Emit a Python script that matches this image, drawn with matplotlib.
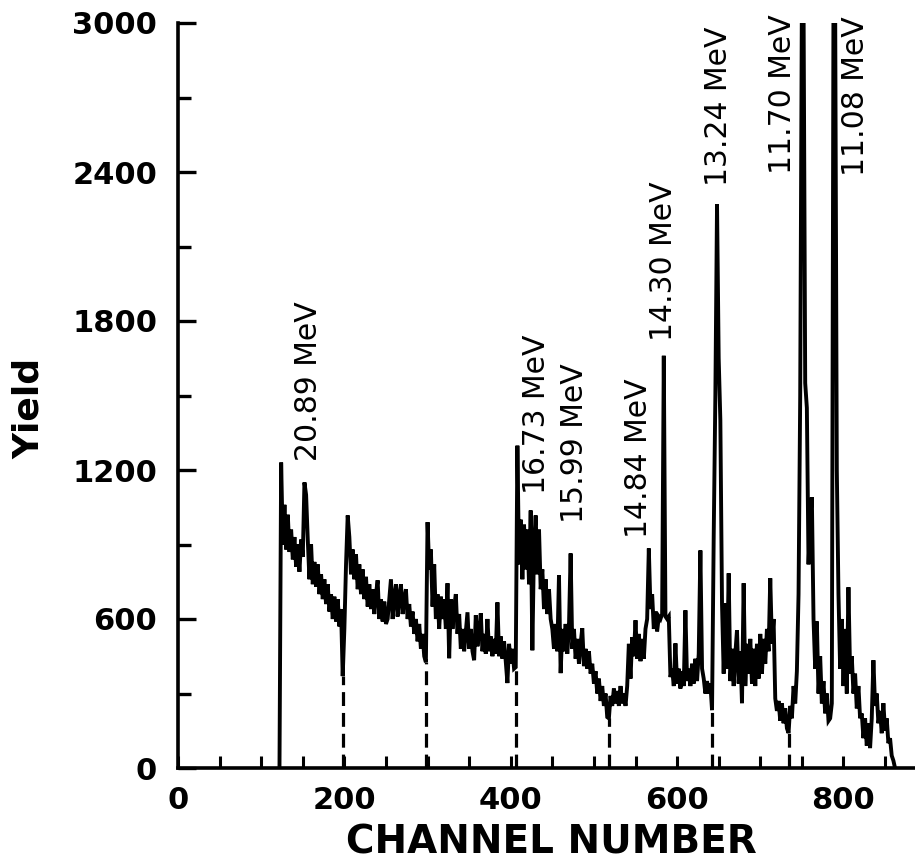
import numpy as np
import matplotlib
matplotlib.use("Agg")
import matplotlib.pyplot as plt

plt.rcParams['font.family'] = ['DejaVu Sans']
plt.rcParams['lines.scale_dashes'] = False

# ---- data ----
first_channel = 122
channel_step = 2
counts = [
    0, 1230, 900, 1060, 880, 1020, 870, 960, 840, 930,
    810, 900, 790, 920, 850, 1150, 1100, 920, 760, 900,
    740, 830, 730, 820, 700, 780, 680, 760, 660, 740,
    630, 700, 600, 690, 590, 680, 570, 640, 370, 560,
    820, 1017, 930, 780, 880, 760, 860, 720, 820, 700,
    800, 680, 770, 650, 740, 640, 720, 620, 700, 756,
    600, 680, 590, 670, 580, 600, 680, 760, 600, 690,
    740, 610, 690, 740, 620, 680, 720, 600, 660, 570,
    630, 540, 600, 510, 580, 480, 540, 450, 426, 990,
    800, 880, 650, 820, 600, 700, 560, 690, 600, 680,
    560, 744, 442, 680, 560, 650, 700, 540, 620, 480,
    560, 470, 550, 627, 480, 560, 470, 434, 615, 490,
    550, 623, 470, 540, 460, 600, 470, 530, 450, 520,
    460, 667, 450, 530, 440, 510, 430, 342, 500, 420,
    480, 400, 406, 1298, 820, 1000, 760, 980, 800, 960,
    740, 1037, 474, 900, 1017, 780, 960, 720, 800, 640,
    760, 620, 720, 600, 560, 480, 580, 470, 776, 382,
    560, 470, 580, 460, 570, 864, 480, 560, 440, 520,
    420, 500, 563, 410, 480, 400, 470, 380, 420, 340,
    390, 300, 360, 270, 330, 250, 300, 205, 200, 290,
    250, 320, 260, 310, 250, 330, 260, 300, 250, 330,
    500, 360, 527, 450, 595, 440, 540, 430, 520, 440,
    560, 600, 884, 640, 700, 560, 630, 550, 610, 600,
    620, 1660, 610, 600, 610, 366, 400, 330, 502, 340,
    400, 320, 390, 330, 635, 350, 400, 330, 420, 340,
    440, 350, 460, 876, 400, 360, 300, 350, 300, 340,
    233, 929, 1500, 2270, 1650, 1400, 660, 380, 663, 400,
    784, 350, 480, 330, 460, 555, 340, 470, 261, 744,
    330, 500, 380, 520, 340, 480, 330, 500, 360, 540,
    380, 520, 420, 560, 470, 764, 500, 600, 280, 230,
    270, 190, 260, 180, 240, 160, 141, 250, 200, 330,
    260, 390, 700, 1500, 3100, 3100, 1550, 1450, 820, 1000,
    1090, 600, 400, 590, 300, 450, 260, 350, 220, 300,
    190, 200, 260, 3100, 3100, 1200, 700, 400, 600, 330,
    560, 300, 728, 380, 450, 300, 380, 240, 330, 200,
    220, 120, 200, 90, 180, 80, 200, 434, 250, 300,
    180, 230, 140, 261, 150, 200, 100, 120, 50, 30, 0,
]
channels = first_channel + channel_step * np.arange(len(counts))

boundary_channels = [198, 298, 406, 518, 642, 734]

label_texts = ["20.89 MeV", "16.73 MeV", "15.99 MeV", "14.84 MeV",
               "14.30 MeV", "13.24 MeV", "11.70 MeV", "11.08 MeV"]
label_channels = [157, 431, 477, 553, 584, 650, 727, 815]
label_yields = [1238, 1105, 988, 925, 1720, 2344, 2392, 2384]

x_ticklabels = [0, 200, 400, 600, 800]
y_ticklabels = [0, 600, 1200, 1800, 2400, 3000]

# ---- figure ----
fig = plt.figure(figsize=(9.15, 8.66), dpi=100)
ax = fig.add_axes([178 / 915, 98 / 866, 737 / 915, 745 / 866])

ax.plot(channels, counts, color='black', lw=2.8, solid_joinstyle='miter', clip_on=True)

cmap = dict(zip(channels.tolist(), counts))
for bc in boundary_channels:
    ax.plot([bc, bc], [0, cmap[bc]], color='black', lw=2.3,
            linestyle=(0, (10, 5)), solid_capstyle='butt')

for t, c, y in zip(label_texts, label_channels, label_yields):
    ax.text(c, y, t, rotation=90, ha='center', va='bottom', fontsize=21.5,
            color='black')

ax.set_xlim(0, 886)
ax.set_ylim(0, 3000)
ax.spines['top'].set_visible(False)
ax.spines['right'].set_visible(False)
for s in ('left', 'bottom'):
    ax.spines[s].set_linewidth(2.6)

ax.set_xticks(x_ticklabels)
ax.set_xticklabels([str(v) for v in x_ticklabels])
ax.set_xticks([v for v in range(50, 886, 50) if v % 200 != 0], minor=True)
ax.set_yticks(y_ticklabels)
ax.set_yticklabels([str(v) for v in y_ticklabels])
ax.set_yticks(np.arange(300, 3000, 600), minor=True)

ax.tick_params(axis='x', which='both', direction='in', length=9, width=2.2,
               labelsize=22, pad=13)
ax.tick_params(axis='y', which='major', direction='in', length=13, width=2.4,
               labelsize=22, pad=15)
ax.tick_params(axis='y', which='minor', direction='in', length=9, width=2.4)
for lab in ax.get_xticklabels() + ax.get_yticklabels():
    lab.set_fontweight('bold')

fig.text(551 / 915, 1 - 843 / 866, "CHANNEL NUMBER", ha='center', va='center',
         fontsize=28, fontweight='bold')
fig.text(29 / 915, 1 - 408 / 866, "Yield", ha='center', va='center',
         rotation=90, fontsize=26, fontweight='bold')

fig.savefig("out.png", dpi=100, facecolor='white')
